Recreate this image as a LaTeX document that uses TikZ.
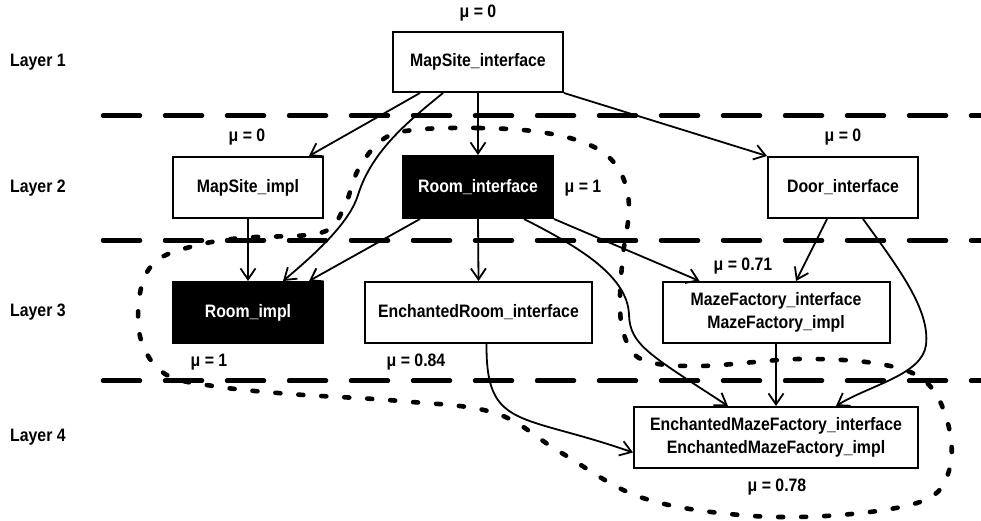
\documentclass[tikz,border=0pt]{standalone}
\usepackage{fontspec}
\setmainfont{Liberation Sans}[FakeStretch=0.88]
\usetikzlibrary{arrows.meta,calc}
\tikzset{
  every node/.style={font=\fontsize{18}{23}\selectfont\bfseries},
  box/.style={draw=black, line width=2pt, fill=white, inner sep=0pt, align=center},
  blackbox/.style={box, fill=black, text=white},
  conn/.style={line width=1.8pt, -{Straight Barb[length=11pt,width=15pt,line width=1.8pt]}},
  layerline/.style={line width=4.5pt, dash pattern=on 37pt off 25pt, line cap=round},
  blob/.style={line width=4.6pt, dash pattern=on 5pt off 18pt, line cap=round},
  lbl/.style={inner sep=0pt}
}
\begin{document}
\begin{tikzpicture}[x=1pt,y=-1pt]
\useasboundingbox (0,0) rectangle (981,521);

% layer separators
\draw[layerline] (103,115.7) -- (985,115.7);
\draw[layerline] (103,240.5) -- (985,240.5);
\draw[layerline] (103,380.7) -- (985,380.7);

% layer labels
\node[lbl, anchor=west] (l1) at (10,62.5) {Layer 1};
\node[lbl, anchor=west] (l2) at (10,188) {Layer 2};
\node[lbl, anchor=west] (l3) at (10,312.5) {Layer 3};
\node[lbl, anchor=west] (l4) at (10,437.5) {Layer 4};

% dotted cluster
\draw[blob] plot[smooth cycle, tension=0.6] coordinates {
  (413,130) (478,128) (540,132) (590,145) (618,168) (629,205) (623,255)
  (620,300) (624,335) (643,360) (700,366) (800,359) (880,364) (925,381)
  (947,420) (950,467) (925,500) (840,515) (740,515) (640,497) (560,452)
  (495,413) (400,401) (290,394) (213,386) (165,374) (141,340) (140,293)
  (155,262) (190,247) (240,238) (320,233) (343,210) (358,170) (382,140)};

% nodes
\node[box, minimum width=170pt, minimum height=60pt] (msi) at (478,62) {MapSite\_interface};
\node[box, minimum width=150pt, minimum height=61pt] (mimpl) at (248,187.5) {MapSite\_impl};
\node[blackbox, minimum width=150pt, minimum height=62pt] (ri) at (478,187) {Room\_interface};
\node[box, minimum width=150pt, minimum height=61pt] (door) at (843,187.5) {Door\_interface};
\node[blackbox, minimum width=150pt, minimum height=61pt] (rimpl) at (248,312.5) {Room\_impl};
\node[box, minimum width=227pt, minimum height=61pt] (eri) at (478.5,312.5) {EnchantedRoom\_interface};
\node[box, minimum width=227pt, minimum height=61pt] (mf) at (776,312.5) {MazeFactory\_interface\\MazeFactory\_impl};
\node[box, minimum width=284pt, minimum height=61pt] (emf) at (776,437.5) {EnchantedMazeFactory\_interface\\EnchantedMazeFactory\_impl};

% mu labels
\node[lbl] (m1) at (478,13) {μ = 0};
\node[lbl] (m2) at (247,137) {μ = 0};
\node[lbl] (m3) at (583,188) {μ = 1};
\node[lbl] (m4) at (843,137) {μ = 0};
\node[lbl] (m5) at (743,266) {μ = 0.71};
\node[lbl] (m6) at (209,362) {μ = 1};
\node[lbl] (m7) at (416,362) {μ = 0.84};
\node[lbl] (m8) at (777,487) {μ = 0.78};

% connectors
\draw[conn] ([xshift=-58pt]msi.south) -- ([xshift=-15pt]mimpl.north east);
\draw[conn] ([xshift=-35pt]msi.south) .. controls (410,120) and (372,150) .. (358,195)
            .. controls (350,221) and (320,250) .. ([xshift=35pt]rimpl.north);
\draw[conn] (msi.south) -- (ri.north);
\draw[conn] (msi.south east) -- (door.north west);
\draw[conn] (mimpl.south) -- (rimpl.north);
\draw[conn] ([xshift=-58pt]ri.south) -- ([xshift=-15pt]rimpl.north east);
\draw[conn] (ri.south) -- (eri.north);
\draw[conn] ([xshift=46pt]ri.south) .. controls (575,245) and (628,275) .. (629,315)
            .. controls (630,345) and (650,355) .. ([xshift=-48pt]emf.north);
\draw[conn] (ri.south east) -- ([xshift=38pt]mf.north west);
\draw[conn] ([xshift=-16pt]door.south) -- ([xshift=20pt]mf.north);
\draw[conn] ([xshift=20pt]door.south) .. controls (900,270) and (930,310) .. (926,345)
            .. controls (922,375) and (870,385) .. ([xshift=60pt]emf.north);
\draw[conn] (mf.south) -- (emf.north);
\draw[conn] ([xshift=8pt]eri.south) .. controls (486,430) and (520,413) .. ([yshift=-15pt]emf.west);
\end{tikzpicture}
\end{document}
